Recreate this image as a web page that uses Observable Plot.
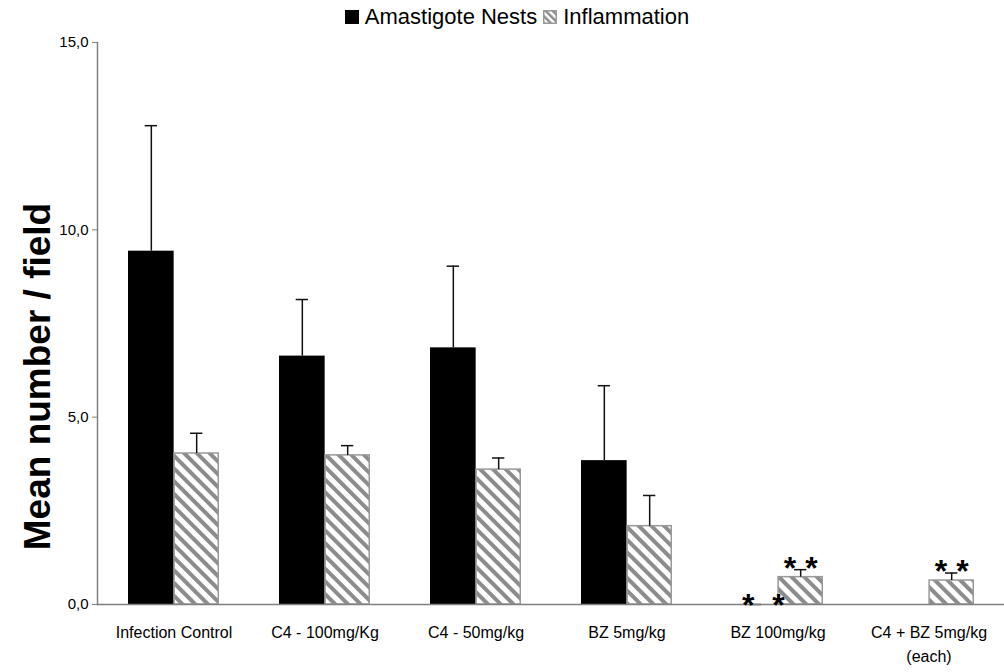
<!DOCTYPE html>
<html>
<head>
<meta charset="utf-8">
<script src="https://cdn.jsdelivr.net/npm/d3@7"></script>
<script src="https://cdn.jsdelivr.net/npm/@observablehq/plot@0.6"></script>
<style>
  body { margin: 0; background: #fff; font-family: "Liberation Sans", Arial, sans-serif; }
  #legend { height: 30px; display: flex; align-items: center; justify-content: center; font-size: 22px; color: #000; padding-left: 30px; padding-top: 3px; box-sizing: border-box; }
  #legend .item { display: flex; align-items: center; margin: 0 3px; }
  #legend svg { margin-right: 6px; }
  #chart svg { display: block; }
</style>
</head>
<body>
<div id="legend"></div>
<div id="chart"></div>
<script>
// ---- data ----
const categories = ["Infection Control", "C4 - 100mg/Kg", "C4 - 50mg/kg", "BZ 5mg/kg", "BZ 100mg/kg", "C4 + BZ 5mg/kg\n(each)"];
const seriesNames = ["Amastigote Nests", "Inflammation"];
const nestsMean = [9.43, 6.63, 6.85, 3.84, 0, null];
const nestsErr  = [3.35, 1.51, 2.18, 2.00, 0, null];
const inflMean  = [4.03, 3.98, 3.60, 2.09, 0.73, 0.64];
const inflErr   = [0.54, 0.26, 0.31, 0.82, 0.20, 0.20];
const yTicks = [0, 5, 10, 15];
const yTitle = "Mean number / field";
// significance marks
const starNestsCats = ["BZ 100mg/kg"];
const starNestsLabels = ["*  *"];
const starInflCats = ["BZ 100mg/kg", "C4 + BZ 5mg/kg\n(each)"];
const starInflLabels = ["* *", "* *"];

// ---- layout ----
const W = 1004, H = 642, ML = 97, MR = 0, MT = 12, MB = 68;
const xOpts = {domain: categories, range: [ML, W - MR], paddingInner: 0.4, paddingOuter: 0.2};
const bw = Plot.scale({x: {type: "band", ...xOpts}}).bandwidth;
const capHalf = 6;

const nests = categories.map((c, i) => ({cat: c, mean: nestsMean[i], err: nestsErr[i]})).filter(d => d.mean != null);
const infl = categories.map((c, i) => ({cat: c, mean: inflMean[i], err: inflErr[i]})).filter(d => d.mean != null);
const starsN = starNestsCats.map((c, i) => {
  const k = categories.indexOf(c); return {cat: c, y: nestsMean[k] + nestsErr[k], label: starNestsLabels[i]};
});
const starsI = starInflCats.map((c, i) => {
  const k = categories.indexOf(c); return {cat: c, y: inflMean[k] + inflErr[k], label: starInflLabels[i]};
});

const font = "Liberation Sans, Arial, sans-serif";

const chart = Plot.plot({
  width: W, height: H,
  marginLeft: ML, marginRight: MR, marginTop: MT, marginBottom: MB,
  style: {fontFamily: font, background: "#fff", color: "#000"},
  x: {...xOpts, type: "band", axis: null},
  y: {domain: [0, 15], axis: null},
  marks: [
    Plot.barY(nests, {x: "cat", y: "mean", fill: "#000", insetRight: bw / 2}),
    Plot.barY(infl, {x: "cat", y: "mean", fill: "url(#hatch)", stroke: "#999", strokeWidth: 1.5, insetLeft: bw / 2 + 0.75, insetRight: 0.75}),
    Plot.ruleX(nests, {x: "cat", y1: "mean", y2: d => d.mean + d.err, dx: -bw / 4, stroke: "#111", strokeWidth: 1.5}),
    Plot.tickY(nests, {x: "cat", y: d => d.mean + d.err, insetLeft: bw / 4 - capHalf, insetRight: bw * 3 / 4 - capHalf, stroke: "#111", strokeWidth: 1.5}),
    Plot.ruleX(infl, {x: "cat", y1: "mean", y2: d => d.mean + d.err, dx: bw / 4, stroke: "#111", strokeWidth: 1.5}),
    Plot.tickY(infl, {x: "cat", y: d => d.mean + d.err, insetLeft: bw * 3 / 4 - capHalf, insetRight: bw / 4 - capHalf, stroke: "#111", strokeWidth: 1.5}),
    Plot.ruleY([0], {stroke: "#808080", strokeWidth: 1.5}),
    Plot.frame({anchor: "left", stroke: "#808080", strokeWidth: 1.5}),
    Plot.axisY({ticks: yTicks, tickFormat: d => d.toFixed(1).replace(".", ","), tickSize: 5, tickPadding: 4, stroke: "#808080", fill: "#000", fontSize: 15, label: null}),
    Plot.axisX({tickSize: 0, tickPadding: 16, fontSize: 16, fill: "#000", label: null, lineHeight: 1.5}),
    Plot.text([yTitle], {frameAnchor: "left", rotate: -90, textAnchor: "middle", dx: -59, dy: 53, text: d => d, fontSize: 37, fontWeight: "bold", fill: "#000"}),
    Plot.text(starsN, {x: "cat", y: "y", text: "label", dx: -bw / 4 + 8, dy: 1, fontSize: 32, fontWeight: "bold", fill: "#000"}),
    Plot.text(starsI, {x: "cat", y: "y", text: "label", dx: bw / 4, dy: -1, fontSize: 32, fontWeight: "bold", fill: "#000"})
  ]
});

const svg = chart.tagName.toLowerCase() === "svg" ? chart : chart.querySelector("svg");
d3.select(svg).append("defs").html(
  `<pattern id="hatch" patternUnits="userSpaceOnUse" width="9" height="9" patternTransform="rotate(-45)">
     <rect width="9" height="9" fill="#fff"/><rect width="4" height="9" fill="#8c8c8c"/>
   </pattern>`);
document.getElementById("chart").appendChild(chart);

// legend
const legend = d3.select("#legend");
const it1 = legend.append("div").attr("class", "item");
it1.append("svg").attr("width", 14).attr("height", 14).html(`<rect width="14" height="14" fill="#000"/>`);
it1.append("span").text(seriesNames[0]);
const it2 = legend.append("div").attr("class", "item");
it2.append("svg").attr("width", 14).attr("height", 14).html(
  `<defs><pattern id="hatchL" patternUnits="userSpaceOnUse" width="5" height="5" patternTransform="rotate(-45)"><rect width="5" height="5" fill="#fff"/><rect width="2.5" height="5" fill="#8c8c8c"/></pattern></defs>
   <rect x="0.75" y="0.75" width="12.5" height="12.5" fill="url(#hatchL)" stroke="#999" stroke-width="1.5"/>`);
it2.append("span").text(seriesNames[1]);
</script>
</body>
</html>
